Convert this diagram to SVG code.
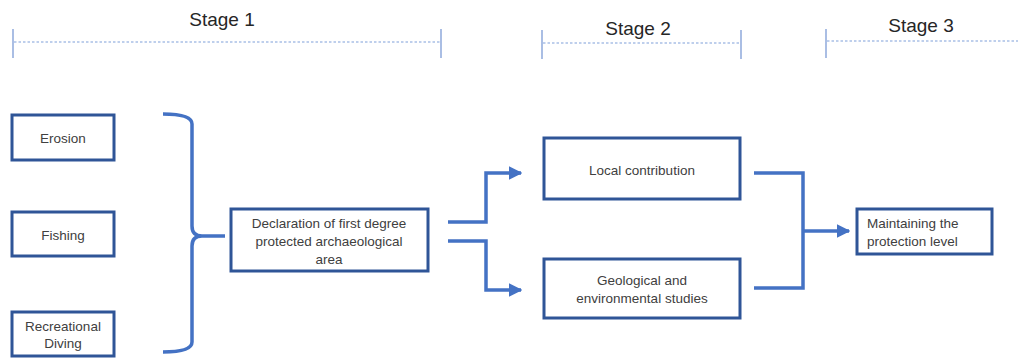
<svg xmlns="http://www.w3.org/2000/svg" width="1018" height="358" viewBox="0 0 1018 358">
<style>
.stage{font-family:"Liberation Sans",Arial,sans-serif;font-size:19px;fill:#262626;text-anchor:middle}
.tick{stroke:#8EA9DB;stroke-width:1.5}
.dots{stroke:#A9C0E6;stroke-width:1.5;stroke-dasharray:2.5 2}
.box{fill:#fff;stroke:#2F5597;stroke-width:3}
.lbl{font-family:"Liberation Sans",Arial,sans-serif;font-size:13.5px;fill:#404040;text-anchor:middle}
.lbll{font-family:"Liberation Sans",Arial,sans-serif;font-size:13.5px;fill:#404040}
.con{fill:none;stroke:#4472C4;stroke-width:3.5}
</style>
<defs>
<marker id="arr" viewBox="0 0 10 10" refX="9" refY="5" markerWidth="3.8" markerHeight="3.8" orient="auto" markerUnits="strokeWidth">
<path d="M0,0 L10,5 L0,10 z" fill="#4472C4"/>
</marker>
</defs>
<g id="stages">
<text class="stage" x="222" y="26">Stage 1</text>
<line class="tick" x1="13" y1="29" x2="13" y2="58"/>
<line class="tick" x1="441" y1="29" x2="441" y2="58"/>
<line class="dots" x1="14" y1="42" x2="440" y2="42"/>
<text class="stage" x="638" y="35">Stage 2</text>
<line class="tick" x1="542" y1="30" x2="542" y2="59"/>
<line class="tick" x1="741" y1="30" x2="741" y2="59"/>
<line class="dots" x1="543" y1="43" x2="740" y2="43"/>
<text class="stage" x="921" y="32">Stage 3</text>
<line class="tick" x1="826" y1="29" x2="826" y2="58"/>
<line class="dots" x1="827" y1="41" x2="1018" y2="41"/>
</g>
<g id="erosion"><rect class="box" x="12" y="115" width="102" height="45"/><text class="lbl" x="63" y="143">Erosion</text></g>
<g id="fishing"><rect class="box" x="12" y="212" width="102" height="44"/><text class="lbl" x="63" y="240">Fishing</text></g>
<g id="diving"><rect class="box" x="12" y="312" width="102" height="44"/><text class="lbl" x="63" y="331">Recreational</text><text class="lbl" x="63" y="348">Diving</text></g>
<g id="declaration"><rect class="box" x="231" y="209" width="197" height="62"/><text class="lbl" x="329" y="228">Declaration of first degree</text><text class="lbl" x="329" y="246">protected archaeological</text><text class="lbl" x="329" y="264">area</text></g>
<g id="local"><rect class="box" x="544" y="138" width="196" height="61"/><text class="lbl" x="642" y="175">Local contribution</text></g>
<g id="geological"><rect class="box" x="544" y="259" width="196" height="59"/><text class="lbl" x="642" y="285">Geological and</text><text class="lbl" x="642" y="303">environmental studies</text></g>
<g id="maintaining"><rect class="box" x="857" y="209" width="135" height="45"/><text class="lbll" x="867" y="228">Maintaining the</text><text class="lbll" x="867" y="246">protection level</text></g>
<g id="connectors">
<path class="con" d="M163,114 Q192,114 192,124 L192,226 Q192,236 202,236 L225,236 M202,236 Q192,236 192,246 L192,342 Q192,352 163,352"/>
<path class="con" d="M448,222 L486,222 L486,173 L521,173" marker-end="url(#arr)"/>
<path class="con" d="M448,241 L486,241 L486,290 L521,290" marker-end="url(#arr)"/>
<path class="con" d="M754,173 L803,173 L803,288 L754,288"/>
<path class="con" d="M803,231 L849,231" marker-end="url(#arr)"/>
</g>
</svg>
